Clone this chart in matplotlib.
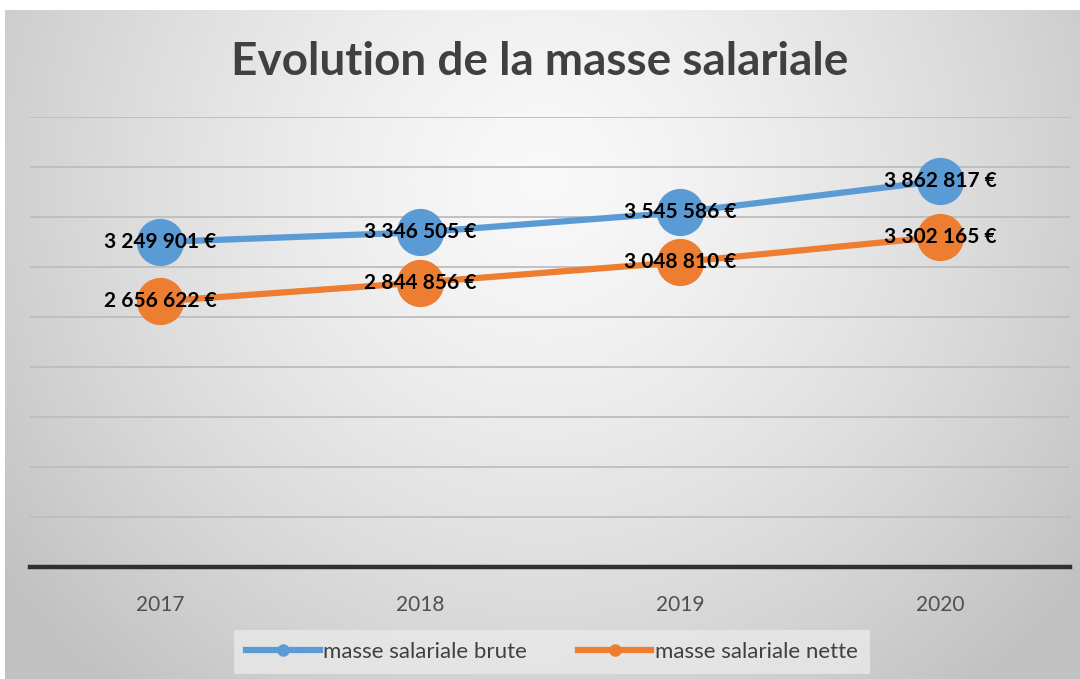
#!/usr/bin/env python3
import matplotlib
matplotlib.use("Agg")
import matplotlib.pyplot as plt
import numpy as np
from matplotlib.lines import Line2D

YEARS = ["2017", "2018", "2019", "2020"]
BRUTE = [3249901, 3346505, 3545586, 3862817]
NETTE = [2656622, 2844856, 3048810, 3302165]
SERIES_NAMES = ["masse salariale brute", "masse salariale nette"]
TITLE = "Evolution de la masse salariale"

BLUE = "#5b9bd5"
ORANGE = "#ed7d31"
FONT = "Lato"


def fmt_euro(v):
    return f"{v:,}".replace(",", " ") + " €"


def radial_bg(w=540, h=340):
    yy, xx = np.mgrid[0:h, 0:w]
    cx, cy = w * 0.5, h * 0.25
    d = np.sqrt(((xx - cx) / (w * 0.62)) ** 2 + ((yy - cy) / (h * 1.0)) ** 2)
    d = np.clip(d, 0, 1)
    light, dark = 0.975, 0.76
    v = light - (light - dark) * d ** 1.4
    return np.dstack([v, v, v])


fig = plt.figure(figsize=(10.8, 6.79), dpi=100)
fig.patch.set_facecolor("white")

bg = fig.add_axes([5 / 1080, 0, 1 - 5 / 1080, 669 / 679])
bg.imshow(radial_bg(), aspect="auto", extent=[0, 1, 0, 1], interpolation="bilinear")
bg.set_axis_off()

ax = fig.add_axes([30 / 1080, (679 - 567) / 679, 1040 / 1080, 450 / 679])
ax.patch.set_alpha(0)
x = np.arange(len(YEARS))

ax.set_ylim(0, 4500000)
ax.set_xlim(-0.5, len(YEARS) - 0.5)
for yv in np.arange(500000, 4500001, 500000):
    ax.axhline(yv, color="#bdbdbd", lw=1.3, zorder=1)
ax.axhline(0, color="#303030", lw=3.2, zorder=2, clip_on=False)

for vals, col in [(BRUTE, BLUE), (NETTE, ORANGE)]:
    ax.plot(x, vals, color=col, lw=4.5, solid_capstyle="round", zorder=3)
    ax.plot(x, vals, "o", color=col, ms=34, mec="none", zorder=4)
    for xi, v in zip(x, vals):
        ax.text(xi, v, fmt_euro(v), ha="center", va="center", fontsize=15,
                fontweight="bold", family=FONT, color="black", zorder=5)

ax.set_xticks(x)
ax.set_xticklabels(YEARS, family=FONT, fontsize=15, color="#505050")
ax.tick_params(axis="x", length=0, pad=20)
ax.set_yticks([])
for s in ax.spines.values():
    s.set_visible(False)

fig.text(0.5, 1 - 62 / 679, TITLE, ha="center", va="center", fontsize=33,
         fontweight="bold", family=FONT, color="#404040")

handles = [
    Line2D([], [], color=BLUE, lw=4.5, marker="o", ms=8),
    Line2D([], [], color=ORANGE, lw=4.5, marker="o", ms=8),
]
leg = fig.legend(handles, SERIES_NAMES, loc="center", bbox_to_anchor=(552 / 1080, 1 - 652 / 679),
                 ncol=2, frameon=True, fancybox=False, handlelength=3.3, handletextpad=0.15,
                 columnspacing=2.3, borderpad=0.55, prop={"family": FONT, "size": 16})
leg.get_frame().set_facecolor("#e9e9e9")
leg.get_frame().set_edgecolor("none")
for t in leg.get_texts():
    t.set_color("#404040")

fig.savefig("out.png", dpi=100)
